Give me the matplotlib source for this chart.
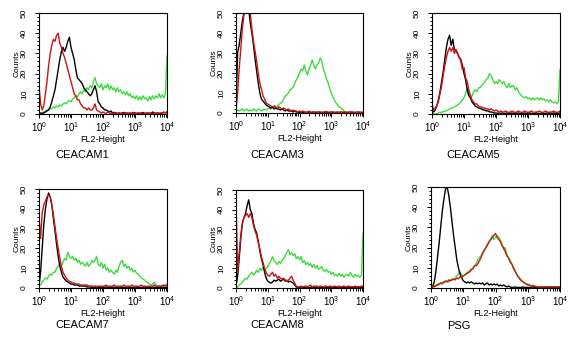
import matplotlib
matplotlib.use("Agg")
import matplotlib.pyplot as plt
import numpy as np
from matplotlib.ticker import FixedLocator, LogLocator, MultipleLocator, NullFormatter

# FL2 channel bins: 20 per decade from 10^0 to 10^4 (81 bins)
CHANNELS = np.logspace(0, 4, 81)

PANEL_NAMES = ["CEACAM1", "CEACAM3", "CEACAM5", "CEACAM7", "CEACAM8", "PSG"]

# counts per bin, one list per trace
C1_BLACK = [0.5, 0.5, 0.3, 0.5, 1, 1.5, 2, 3.5, 6, 9,
            12, 17, 22, 27, 31, 33, 31, 33, 36, 38,
            33, 30, 27, 22, 18, 17, 16, 15, 13, 12,
            11, 10, 9, 10, 12, 14, 11, 6, 5, 3.5,
            3, 2, 2, 1.5, 1, 1.5, 0.5, 0.8, 0.5, 0.3,
            0.5, 0.3, 0.5, 0.8, 0.3, 0.5, 0.3, 0.5, 0.3, 0.8,
            0.5, 0.3, 0.5, 0.3, 0.5, 0.8, 0.3, 0.5, 0.3, 0.5,
            0.3, 1, 0.5, 0.3, 0.5, 0.3, 0.5, 0.3, 0.8, 0.5,
            1]
C1_RED = [14, 5, 2, 4, 10, 16, 24, 30, 34, 37,
          36, 39, 40, 35, 33, 30, 28, 25, 22, 19,
          16, 13, 10, 9, 7, 7, 5, 4, 3, 3,
          2, 3, 2, 2, 3, 5, 2, 1.5, 1, 0.5,
          1, 0.5, 0.3, 1, 0.5, 0.3, 0.3, 0.5, 0.2, 0.3,
          0.5, 0.2, 0.3, 0.3, 0.5, 0.2, 0.3, 0.3, 0.2, 0.5,
          0.3, 0.2, 0.3, 0.5, 0.3, 0.2, 0.3, 0.2, 0.5, 0.3,
          0.2, 0.3, 0.2, 0.3, 0.5, 0.3, 0.2, 0.5, 1, 0.5,
          1]
C1_GREEN = [0, 0, 0.5, 1, 1.5, 2, 2, 3, 2.5, 3.5,
            3, 4, 3.5, 4.5, 4, 5, 5.5, 5, 6, 6.5,
            6, 7.5, 8, 9, 8.5, 10, 11, 10, 12, 11,
            13, 12, 14, 13, 16, 18, 15, 14, 13, 15,
            12, 14, 13, 15, 12, 14, 12, 13, 11, 13,
            11, 12, 10, 11, 9.5, 11, 9, 10, 8, 9,
            7.5, 9, 7, 8.5, 7, 9, 7.5, 8, 6.5, 8.5,
            7, 9, 7.5, 9, 8, 10, 8, 9.5, 8, 10,
            29]

C3_BLACK = [2, 30, 34, 40, 46, 50, 53, 53, 52, 45,
            40, 34, 27, 21, 15, 10, 7, 6, 5, 4,
            3.5, 3, 2.5, 3, 2, 2.5, 2, 2, 1.5, 2,
            1.5, 1, 1.5, 1, 1, 1, 0.5, 1, 0.5, 0.5,
            0.3, 0.5, 0.3, 0.5, 0.3, 0.3, 0.5, 0.3, 0.3, 0.5,
            0.3, 0.3, 0.5, 0.3, 0.3, 0.3, 0.5, 0.3, 0.3, 0.3,
            0.3, 0.5, 0.3, 0.3, 0.3, 0.3, 0.5, 0.3, 0.3, 0.3,
            0.3, 0.3, 0.5, 0.3, 0.3, 0.3, 0.3, 0.5, 0.3, 0.3,
            0.3]
C3_RED = [1, 10, 22, 32, 42, 49, 53, 53, 53, 50,
          42, 36, 31, 26, 20, 15, 12, 8.5, 7, 5,
          4.5, 4, 3.5, 3, 3.5, 3, 2.5, 3, 2.5, 2,
          2.5, 2, 1.5, 2, 1.5, 1, 1.5, 1, 1, 0.5,
          1, 0.5, 1, 0.5, 0.3, 0.5, 1, 0.3, 0.5, 0.3,
          0.5, 0.3, 0.3, 0.5, 0.3, 0.3, 0.5, 0.8, 0.3, 0.3,
          0.5, 0.3, 0.3, 0.3, 0.5, 0.3, 0.3, 0.3, 0.5, 0.3,
          0.3, 0.3, 0.3, 0.5, 0.3, 0.3, 0.3, 0.3, 0.3, 0.3,
          0.3]
C3_GREEN = [0.5, 1.5, 1, 1.5, 2, 1, 1.5, 2, 1, 1.5,
            1, 2, 1.5, 1, 2, 1.5, 1, 1.5, 2, 1.5,
            2, 2.5, 2, 2.5, 3, 3, 3.5, 4, 5, 5.5,
            7, 8.5, 9, 10, 11.5, 12, 13, 15, 16.5, 18,
            20, 22, 21, 24, 21, 19, 22, 24, 26.5, 24,
            22, 24, 25, 27.5, 26, 22, 20, 17, 15, 12.5,
            10, 8, 6.5, 5, 4, 3, 2.5, 2, 1, 0.5,
            0.3, 0, 0, 0, 0, 0, 0, 0, 0, 0,
            0]

C5_BLACK = [2, 1, 2, 4, 7, 11, 16, 21, 27, 33,
            37, 39, 34, 37, 32, 31, 30, 28, 27, 24,
            20, 17, 12, 9, 8, 6, 5, 4, 3.5, 3,
            2.8, 2.5, 2, 2, 1.5, 1.5, 1, 1, 0.8, 0.5,
            0.5, 0.3, 0.5, 0.3, 0.5, 0.3, 0.3, 0.5, 0.3, 0.3,
            0.5, 0.3, 0.3, 0.3, 0.5, 0.3, 0.3, 0.3, 0.5, 0.3,
            0.3, 0.5, 0.3, 0.3, 0.3, 0.5, 0.3, 0.3, 0.3, 0.5,
            0.3, 0.3, 0.5, 0.3, 0.3, 0.3, 0.5, 0.3, 0.3, 0.3,
            0.5]
C5_RED = [5, 2, 3, 4, 6, 10, 14, 19, 24, 28,
          31, 33, 31, 33, 30, 32, 30, 28, 26, 22,
          23, 18, 16, 12, 9, 7, 6, 5, 5, 4,
          3.5, 3.5, 3, 3, 2.5, 2.5, 2, 2.5, 2, 1.5,
          2, 1.5, 1, 1.5, 1, 1, 1.5, 1, 0.8, 1,
          1.5, 1, 0.8, 1, 1.5, 1, 0.8, 1, 1.5, 1,
          0.8, 1, 1.5, 1, 0.8, 1, 1, 1.5, 1, 0.8,
          1, 1.5, 1, 0.8, 1, 1, 1.5, 1, 0.8, 1,
          1.5]
C5_GREEN = [0, 0, 0, 0, 0.5, 0.5, 1, 1, 1.5, 1.5,
            2, 2.5, 3, 3, 3.5, 4, 4.5, 5, 6, 7,
            8, 10, 13, 11, 8, 9, 11, 12, 11, 13,
            13, 14, 15, 16, 17, 18, 20, 19, 17, 15,
            16, 15, 17, 16, 15, 16, 14, 13, 15, 13,
            14, 14, 12, 13, 11, 10, 9, 8.5, 8, 8.5,
            7.5, 8, 7, 8, 7, 7.5, 8, 7, 8, 7,
            7.5, 6.5, 7, 6, 7, 6, 5.5, 6, 5, 6,
            22]

C7_BLACK = [1, 8, 20, 32, 40, 45, 48, 46, 42, 35,
            29, 22, 16, 11, 8, 5.5, 4.5, 3.5, 3, 2.5,
            2, 2, 1.5, 1.5, 1.5, 1, 1, 1, 1, 1,
            0.5, 0.5, 0.5, 0.3, 0.5, 0.3, 0.5, 0.3, 0.3, 0.5,
            0.3, 0.3, 0.5, 0.3, 0.3, 0.3, 0.5, 0.3, 0.3, 0.3,
            0.5, 0.3, 0.3, 0.3, 0.3, 0.5, 0.3, 0.3, 0.3, 0.3,
            0.5, 0.3, 0.3, 0.3, 0.3, 0.3, 0.5, 0.3, 0.3, 0.3,
            0.3, 0.5, 0.3, 0.3, 0.3, 0.3, 0.3, 0.5, 0.3, 0.3,
            0.3]
C7_RED = [36, 25, 38, 42, 44, 46, 47, 46, 42, 37,
          31, 25, 20, 15, 11, 8, 6.5, 5, 4, 3.2,
          3, 2.5, 2.5, 2, 2, 2, 1.5, 1.5, 1.5, 1.5,
          1.5, 1, 1, 1, 0.8, 1, 0.8, 1, 0.8, 1,
          0.8, 1, 1.5, 0.8, 1, 0.8, 1, 1.5, 0.8, 1,
          0.8, 1, 0.8, 1.5, 1, 0.8, 1, 0.8, 1.5, 1,
          0.8, 1, 0.8, 1, 1.5, 0.8, 1, 0.8, 1, 0.8,
          1, 0.8, 1.5, 1, 0.8, 1, 0.8, 1, 1.5, 1,
          1.5]
C7_GREEN = [2, 1.5, 3, 4, 5, 4.5, 6, 7, 6.5, 8,
            8, 10, 11, 12, 11, 13, 15, 14, 18, 16,
            15, 16, 14, 15, 13, 14, 12, 13, 12, 11,
            13, 11, 12, 14, 13, 14, 16, 12, 11, 13,
            10, 12, 9, 10, 8, 9, 8, 7, 9, 8,
            11, 13, 14, 11, 12, 10, 11, 9, 10, 8,
            9, 7.5, 7, 6, 5, 4.5, 4, 3.2, 2.5, 2,
            1.5, 2, 3, 1.5, 1, 1, 1, 1.5, 1, 1.5,
            2]

C8_BLACK = [1, 6, 15, 25, 33, 36, 38, 42, 45, 40,
            38, 33, 30, 28, 24, 19, 15, 12, 8, 5,
            3.5, 3, 2.5, 3, 4, 3.5, 4, 4.5, 3.5, 4,
            4.5, 3.5, 4, 3, 3.5, 3, 2.5, 1.5, 0.5, 0.3,
            0.3, 0.5, 0.3, 0.3, 0.5, 0.3, 0.3, 0.3, 0.5, 0.3,
            0.3, 0.3, 0.5, 0.3, 0.3, 0.3, 0.5, 0.3, 0.3, 0.3,
            0.5, 0.3, 0.3, 0.3, 0.3, 0.5, 0.3, 0.3, 0.3, 0.3,
            0.5, 0.3, 0.3, 0.3, 0.3, 0.3, 0.5, 0.3, 0.3, 0.3,
            0.3]
C8_RED = [48, 8, 18, 27, 33, 36, 37, 38, 36, 38,
          36, 32, 29, 27, 23, 20, 16, 13, 10, 8,
          6.5, 6, 7, 8, 6, 7, 5, 6, 5, 4.5,
          5, 4, 3.5, 4, 5, 6, 4, 2.5, 0.8, 0.5,
          0.5, 1, 0.5, 0.8, 1, 0.5, 1, 1.5, 0.5, 1,
          0.8, 1, 0.5, 1, 0.8, 0.5, 1, 0.8, 0.5, 1,
          0.8, 0.5, 1, 0.8, 0.5, 1, 0.5, 0.8, 1, 0.5,
          0.8, 1, 0.5, 0.8, 0.5, 1, 0.5, 0.8, 0.5, 1,
          0.8]
C8_GREEN = [0, 0.5, 1.5, 2, 3, 4, 5, 4.5, 6, 7,
            8, 6.5, 7.5, 9, 8, 10, 9, 10.5, 9, 10,
            11, 12.5, 14, 16, 14, 13, 12, 13.5, 12.5, 14,
            15, 16.5, 18, 19.5, 17, 18, 16.5, 17.5, 15, 16,
            14.5, 16, 13, 14, 12, 13, 11.5, 12.5, 10.5, 12,
            10, 11.5, 9.5, 10, 11, 9, 8.5, 9.5, 8, 8.5,
            7, 8, 6.5, 7, 6, 7.5, 6, 7, 5.5, 6.5,
            7, 6, 8, 6.5, 5.5, 7, 6, 6.5, 5.5, 6.5,
            28]

PSG_BLACK = [1, 0.5, 3, 8, 15, 22, 30, 38, 44, 49,
             50, 46, 40, 33, 26, 20, 14, 10, 7, 5,
             3.6, 3, 2.5, 3, 2.5, 3, 2.5, 2, 2.5, 2,
             2.5, 2, 2.5, 1.5, 2, 2.5, 1.5, 2, 1.5, 2,
             1.5, 2, 1, 1.5, 1, 1.5, 1, 0.5, 1, 0.5,
             0.3, 0.3, 0.5, 0.3, 0.3, 0.3, 0.3, 0.5, 0.3, 0.3,
             0.3, 0.3, 0.3, 0.5, 0.3, 0.3, 0.3, 0.3, 0.3, 0.3,
             0.3, 0.3, 0.3, 0.3, 0.5, 0.3, 0.3, 0.3, 0.3, 0.3,
             0.3]
PSG_RED = [2, 1, 0.5, 1, 1.5, 2, 2.5, 2, 3, 3.5,
           3, 4, 3.5, 4, 4.5, 4, 5, 4.5, 5.5, 5,
           6, 6.5, 7, 7.5, 8, 9, 9.5, 11, 11, 12,
           13.5, 15, 17, 18.5, 20, 21, 23, 24, 25, 26,
           27, 25, 24, 23, 21, 20, 18, 16, 15, 13,
           12, 10, 8.5, 7, 5.5, 4.5, 3.5, 3, 2.5, 2,
           1.5, 1.5, 1, 1, 1, 0.5, 0.5, 0.5, 0.5, 0.5,
           0.5, 0.5, 0.5, 0.5, 0.5, 0.5, 0.5, 0.5, 0.5, 0.5,
           0.5]
PSG_GREEN = [1, 0.5, 1, 1.5, 2, 1.5, 2.5, 3, 2.5, 3,
             3.5, 3, 4, 4.5, 4, 5, 6, 7, 8, 6.5,
             6, 6.5, 7.5, 8, 8.5, 9.5, 10, 11, 12, 14,
             15, 16, 17.5, 19, 20, 22, 22.5, 24, 26, 24,
             25, 26, 25, 24, 22, 19, 20, 17, 15, 14,
             12, 10.5, 9, 7, 6, 5, 4, 3, 2.5, 2,
             2, 1.5, 1, 1.5, 1, 1, 0.5, 0.5, 0.5, 0.5,
             0.5, 0.5, 0.5, 0.5, 0.5, 0.5, 0.5, 0.5, 0.5, 0.5,
             0.5]

PANEL_TRACES = [
    (C1_GREEN, C1_BLACK, C1_RED),
    (C3_GREEN, C3_BLACK, C3_RED),
    (C5_GREEN, C5_BLACK, C5_RED),
    (C7_GREEN, C7_BLACK, C7_RED),
    (C8_GREEN, C8_BLACK, C8_RED),
    (PSG_GREEN, PSG_BLACK, PSG_RED),
]
TRACE_COLORS = ["#3ddc3d", "#000000", "#cc1414"]

W, H = 573, 344
# axes boxes in pixels: left, top, right, bottom
AXES_PX = [
    (39, 13, 167, 114), (236, 13, 363, 113), (432, 13, 560, 114),
    (39, 189, 167, 288), (236, 190, 363, 288), (431, 187, 560, 288),
]
NAME_PX = [(55, 155), (250, 155), (446, 155), (55, 325), (250, 325), (447, 326)]


def style_axis(ax):
    ax.set_xscale("log")
    ax.set_xlim(1, 1e4)
    ax.set_ylim(0, 50)
    ax.xaxis.set_major_locator(FixedLocator([1, 10, 100, 1000, 10000]))
    ax.set_xticklabels([r"$\mathregular{10^{%d}}$" % k for k in range(5)])
    ax.xaxis.set_minor_locator(LogLocator(base=10, subs=np.arange(2, 10), numticks=20))
    ax.xaxis.set_minor_formatter(NullFormatter())
    ax.yaxis.set_major_locator(MultipleLocator(10))
    ax.yaxis.set_minor_locator(MultipleLocator(2))
    ax.tick_params(axis="both", which="both", direction="out", width=0.7, colors="black")
    ax.tick_params(axis="both", which="major", length=3)
    ax.tick_params(axis="both", which="minor", length=1.8)
    ax.tick_params(axis="x", labelsize=7, pad=1.5)
    ax.tick_params(axis="y", labelsize=6, pad=5, labelrotation=90)
    for lbl in ax.get_yticklabels():
        lbl.set_va("center")
    for spine in ax.spines.values():
        spine.set_linewidth(0.8)
    ax.set_xlabel("FL2-Height", fontsize=6.5, labelpad=0.5)
    ax.set_ylabel("Counts", fontsize=6, labelpad=0.5)


def main():
    plt.rcParams["font.family"] = ["Liberation Sans", "DejaVu Sans"]
    fig = plt.figure(figsize=(W / 100, H / 100), dpi=100)
    fig.patch.set_facecolor("white")

    for (x0, y0, x1, y1), traces, name, (nx, ny) in zip(AXES_PX, PANEL_TRACES, PANEL_NAMES, NAME_PX):
        ax = fig.add_axes([x0 / W, 1 - y1 / H, (x1 - x0) / W, (y1 - y0) / H])
        for counts, color in zip(traces, TRACE_COLORS):
            ax.plot(CHANNELS, counts, color=color, linewidth=1.0)
        style_axis(ax)
        fig.text(nx / W, 1 - ny / H, name, fontsize=8, ha="left", va="center")

    fig.savefig("out.png", dpi=100)


if __name__ == "__main__":
    main()
